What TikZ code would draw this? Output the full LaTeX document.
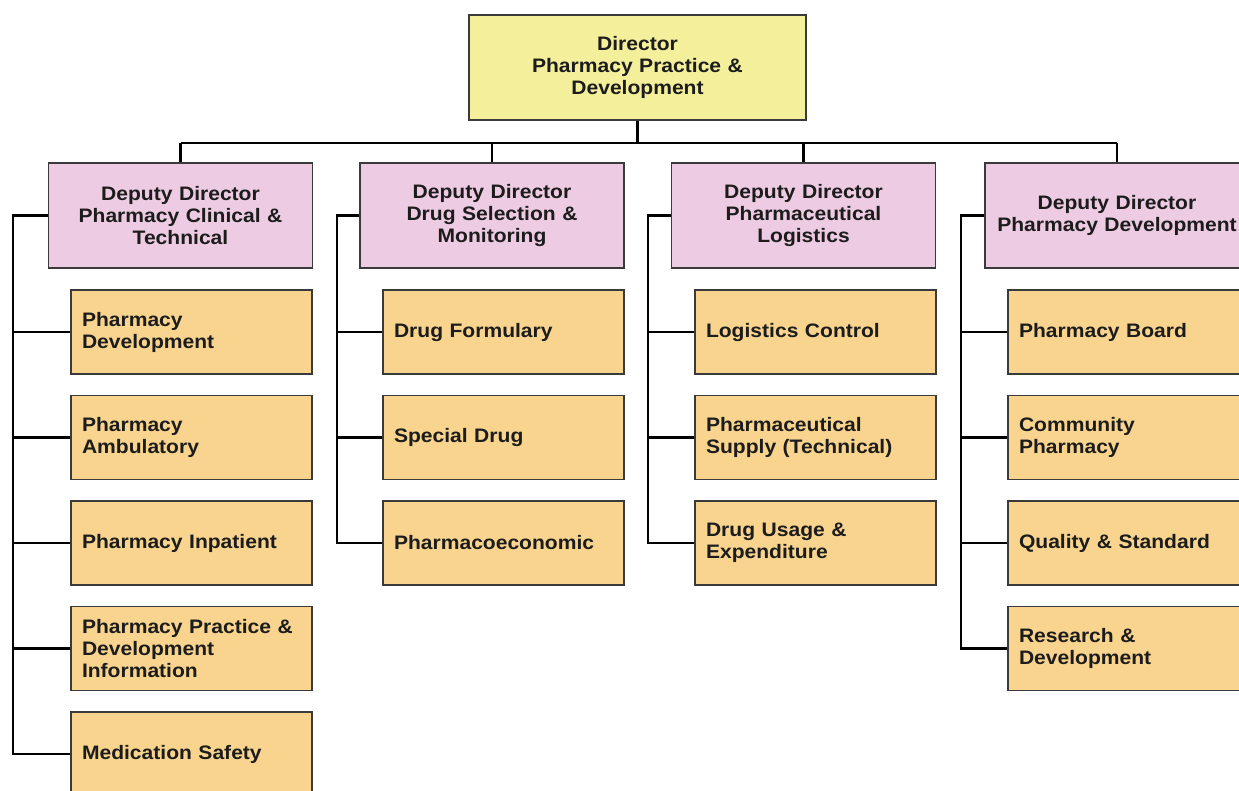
\documentclass[tikz,border=0pt]{standalone}
\usepackage{fontspec}
\setmainfont[FakeStretch=1.08]{Liberation Sans}
\definecolor{dirfill}{HTML}{F3EF9B}
\definecolor{depfill}{HTML}{EDCBE2}
\definecolor{unitfill}{HTML}{F8D48E}
\definecolor{edge}{HTML}{3A3A3A}
\definecolor{ink}{HTML}{1C1C1C}
\begin{document}
\begin{tikzpicture}[x=1pt,y=-1pt,
  box/.style={draw=edge, line width=1.2pt, text=ink, inner sep=0pt,
    font=\fontsize{19.5}{22}\selectfont\bfseries},
  dirbox/.style={box, fill=dirfill, minimum width=337pt, minimum height=105pt,
    text width=320pt, align=center},
  depbox/.style={box, fill=depfill, minimum width=264pt, minimum height=105pt,
    text width=256pt, align=center},
  unitbox/.style={box, fill=unitfill, minimum width=241pt, minimum height=84pt,
    text width=219pt, inner xsep=11pt, align=left},
  link/.style={line width=2.4pt, draw=black}]
\clip (0,0) rectangle (1239,790);
\fill[white] (0,0) rectangle (1239,790);

% director
\node[dirbox] (dir) at (637.5,67.5) {Director\\Pharmacy Practice \&\\Development};

% deputy directors
\node[depbox] (d1) at (180.5,215.5) {Deputy Director\\Pharmacy Clinical \&\\Technical};
\node[depbox] (d2) at (492,215.5) {Deputy Director\\Drug Selection \&\\Monitoring};
\node[depbox] (d3) at (803.5,215.5) {Deputy Director\\Pharmaceutical\\Logistics};
\node[depbox] (d4) at (1117,215.5) {Deputy Director\\Pharmacy Development};

% units under the first deputy
\node[unitbox] (u11) at (191.5,332) {Pharmacy\\Development};
\node[unitbox] (u12) at (191.5,437.5) {Pharmacy\\Ambulatory};
\node[unitbox] (u13) at (191.5,543) {Pharmacy Inpatient};
\node[unitbox] (u14) at (191.5,648.5) {Pharmacy Practice \&\\Development\\Information};
\node[unitbox] (u15) at (191.5,754) {Medication Safety};

% units under the second deputy
\node[unitbox] (u21) at (503.5,332) {Drug Formulary};
\node[unitbox] (u22) at (503.5,437.5) {Special Drug};
\node[unitbox] (u23) at (503.5,543) {Pharmacoeconomic};

% units under the third deputy
\node[unitbox] (u31) at (815.5,332) {Logistics Control};
\node[unitbox] (u32) at (815.5,437.5) {Pharmaceutical\\Supply (Technical)};
\node[unitbox] (u33) at (815.5,543) {Drug Usage \&\\Expenditure};

% units under the fourth deputy
\node[unitbox] (u41) at (1128.5,332) {Pharmacy Board};
\node[unitbox] (u42) at (1128.5,437.5) {Community\\Pharmacy};
\node[unitbox] (u43) at (1128.5,543) {Quality \& Standard};
\node[unitbox] (u44) at (1128.5,648.5) {Research \&\\Development};

% director to deputies
\coordinate (bus) at (637.5,143);
\draw[link] (dir.south) -- (bus);
\draw[link] (d1.north |- bus) -- (d4.north |- bus);
\foreach \d in {d1,d2,d3,d4}
  \draw[link] (\d.north |- bus) -- (\d.north);

% spines from each deputy down to its units
\coordinate (s1) at (13,0);
\coordinate (s2) at (337,0);
\coordinate (s3) at (648,0);
\coordinate (s4) at (961,0);
\draw[link] (d1.west) -| (s1 |- u15.west) -- (u15.west);
\draw[link] (d2.west) -| (s2 |- u23.west) -- (u23.west);
\draw[link] (d3.west) -| (s3 |- u33.west) -- (u33.west);
\draw[link] (d4.west) -| (s4 |- u44.west) -- (u44.west);
\foreach \u in {u11,u12,u13,u14}
  \draw[link] (s1 |- \u.west) -- (\u.west);
\foreach \u in {u21,u22}
  \draw[link] (s2 |- \u.west) -- (\u.west);
\foreach \u in {u31,u32}
  \draw[link] (s3 |- \u.west) -- (\u.west);
\foreach \u in {u41,u42,u43}
  \draw[link] (s4 |- \u.west) -- (\u.west);
\end{tikzpicture}
\end{document}
